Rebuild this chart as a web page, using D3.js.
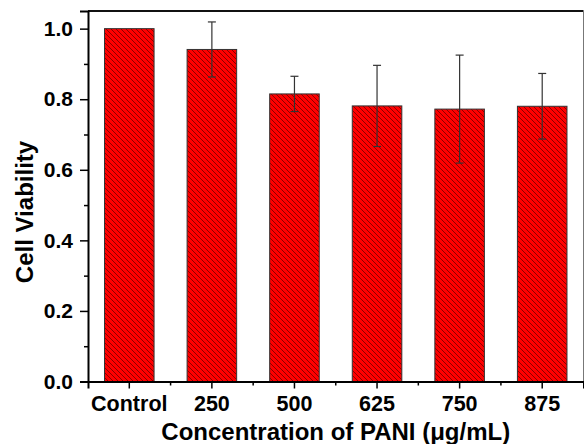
<!DOCTYPE html>
<style>
body { margin: 0; background: #fff; }
text { font-family: "Liberation Sans", Arial, sans-serif; font-weight: bold; fill: #000; }
</style>
<svg width="584" height="444"></svg>
<script src="https://d3js.org/d3.v7.min.js"></script>
<script>

var categories = ["Control", "250", "500", "625", "750", "875"];
var viability = [1.0, 0.941, 0.815, 0.781, 0.772, 0.780];
var errors = [0, 0.078, 0.050, 0.115, 0.153, 0.093];
var yTicks = [0, 0.2, 0.4, 0.6, 0.8, 1.0];
var yMinorTicks = [0.1, 0.3, 0.5, 0.7, 0.9];

var data = categories.map(function(c, i) {
  return {name: c, value: viability[i], err: errors[i]};
});

var svg = d3.select("svg"),
    margin = {top: 11, right: 0.5, bottom: 62.5, left: 88},
    width = +svg.attr("width") - margin.left - margin.right,
    height = +svg.attr("height") - margin.top - margin.bottom;

var g = svg.append("g")
    .attr("transform", "translate(" + margin.left + "," + margin.top + ")");

var x = d3.scaleBand()
    .domain(categories)
    .range([0, width])
    .paddingInner(0.4)
    .paddingOuter(0.2);

var y = d3.scaleLinear()
    .domain([0, 1.05])
    .range([height, 0]);

// hatch fill for the bars
var pattern = svg.append("defs").append("pattern")
    .attr("id", "hatch")
    .attr("patternUnits", "userSpaceOnUse")
    .attr("width", 5)
    .attr("height", 5);
pattern.append("rect")
    .attr("width", 5)
    .attr("height", 5)
    .attr("fill", "#ff0000");
pattern.append("path")
    .attr("d", "M-1,-1L6,6M-1,4L1,6M4,-1L6,1")
    .attr("stroke", "#8a0000")
    .attr("stroke-width", 1);

g.selectAll(".bar")
    .data(data)
  .enter().append("rect")
    .attr("class", "bar")
    .attr("x", function(d) { return x(d.name); })
    .attr("y", function(d) { return y(d.value); })
    .attr("width", x.bandwidth())
    .attr("height", function(d) { return height - y(d.value); })
    .attr("fill", "url(#hatch)")
    .attr("stroke", "#333")
    .attr("stroke-width", 1);

// error bars
var eb = g.selectAll(".err")
    .data(data.filter(function(d) { return d.err > 0; }))
  .enter().append("g")
    .attr("class", "err")
    .attr("stroke", "#333")
    .attr("stroke-width", 1.2);

eb.append("line")
    .attr("x1", function(d) { return x(d.name) + x.bandwidth() / 2; })
    .attr("x2", function(d) { return x(d.name) + x.bandwidth() / 2; })
    .attr("y1", function(d) { return y(d.value + d.err); })
    .attr("y2", function(d) { return y(d.value - d.err); });

[1, -1].forEach(function(s) {
  eb.append("line")
      .attr("x1", function(d) { return x(d.name) + x.bandwidth() / 2 - 4; })
      .attr("x2", function(d) { return x(d.name) + x.bandwidth() / 2 + 4; })
      .attr("y1", function(d) { return y(d.value + s * d.err); })
      .attr("y2", function(d) { return y(d.value + s * d.err); });
});

// frame: top and right
g.append("line")
    .attr("x1", 0).attr("x2", width)
    .attr("y1", 0).attr("y2", 0)
    .attr("stroke", "#111")
    .attr("stroke-width", 2);
g.append("line")
    .attr("x1", width).attr("x2", width)
    .attr("y1", 0).attr("y2", height)
    .attr("stroke", "#777")
    .attr("stroke-width", 1);

// minor ticks
g.append("g")
    .call(d3.axisLeft(y).tickValues(yMinorTicks).tickSize(4).tickFormat(""))
    .call(function(a) { a.select(".domain").remove(); })
    .selectAll("line").attr("stroke-width", 1.5);

var xMinor = categories.slice(0, -1).map(function(c) {
  return x(c) + x.step() - (x.step() - x.bandwidth()) / 2;
});
g.selectAll(".xminor")
    .data(xMinor)
  .enter().append("line")
    .attr("class", "xminor")
    .attr("x1", function(d) { return d; })
    .attr("x2", function(d) { return d; })
    .attr("y1", height)
    .attr("y2", height + 4)
    .attr("stroke", "#000")
    .attr("stroke-width", 1.5);

var yAxis = g.append("g")
    .call(d3.axisLeft(y).tickValues(yTicks).tickSize(8).tickPadding(7).tickFormat(d3.format(".1f")));
yAxis.selectAll("text").style("font-size", "21px");

var xAxis = g.append("g")
    .attr("transform", "translate(0," + height + ")")
    .call(d3.axisBottom(x).tickSize(7).tickPadding(7));
xAxis.selectAll("text").style("font-size", "21.5px");

g.selectAll(".domain")
    .attr("stroke-width", 2);
g.selectAll(".tick line")
    .attr("stroke-width", 1.5);

svg.append("text")
    .attr("x", margin.left + width / 2)
    .attr("y", 440)
    .attr("text-anchor", "middle")
    .style("font-size", "24px")
    .text("Concentration of PANI (\u03bcg/mL)");

svg.append("text")
    .attr("transform", "translate(33,212)rotate(-90)")
    .attr("text-anchor", "middle")
    .style("font-size", "24px")
    .text("Cell Viability");

</script>
